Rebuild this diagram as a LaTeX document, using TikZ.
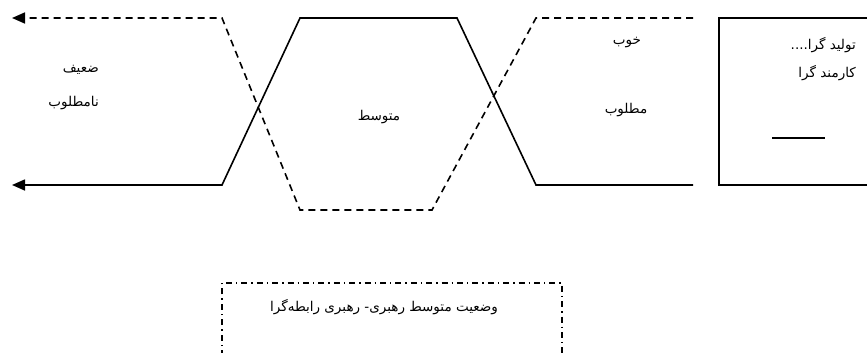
\documentclass[tikz,border=0pt]{standalone}
\usepackage{fontspec}
\newfontfamily\farsi[Script=Arabic]{DejaVu Sans}
\TeXXeTstate=1
\usetikzlibrary{arrows.meta, positioning}

\begin{document}
\begin{tikzpicture}[
  x=1pt, y=-1pt,
  font=\farsi\fontsize{13.5}{16}\selectfont,
  solidline/.style={line width=1.6pt, line join=miter},
  dashline/.style={line width=1.6pt, dash pattern=on 7pt off 5pt},
  dotdash/.style={line width=1.4pt, dash pattern=on 6pt off 4pt on 1.4pt off 4pt},
  arrow/.style={-{Triangle[length=13pt, width=11pt]}},
  lbl/.style={inner sep=1pt}
]
  \useasboundingbox (0,0) rectangle (867,353);

  % corner points of the two curves
  \coordinate (dstart) at (693,18);
  \coordinate (d1) at (536,18);
  \coordinate (d2) at (432,210);
  \coordinate (d3) at (300,210);
  \coordinate (d4) at (222,18);
  \coordinate (dend) at (12,18);
  \coordinate (sstart) at (693,185);
  \coordinate (s1) at (536,185);
  \coordinate (s2) at (457,18);
  \coordinate (s3) at (300,18);
  \coordinate (s4) at (222,185);
  \coordinate (send) at (12,185);

  \draw[dashline, arrow] (dstart) -- (d1) -- (d2) -- (d3) -- (d4) -- (dend);
  \draw[solidline, arrow] (sstart) -- (s1) -- (s2) -- (s3) -- (s4) -- (send);

  % labels
  \node[lbl, anchor=east] (weak) at (100,70) {\beginR ضعیف\endR};
  \node[lbl, anchor=east] (undesired) at (100,103) {\beginR نامطلوب\endR};
  \node[lbl] (medium) at (379,117) {\beginR متوسط\endR};
  \node[lbl] (good) at (627,43) {\beginR خوب\endR};
  \node[lbl] (desired) at (626,110) {\beginR مطلوب\endR};

  % right box
  \coordinate (rtop) at (870,18);
  \coordinate (rtl) at (719,18);
  \coordinate (rbl) at (719,185);
  \coordinate (rbot) at (870,185);
  \draw[solidline] (rtop) -- (rtl) -- (rbl) -- (rbot);
  \node[lbl, anchor=east] (task) at (857,45) {\beginR تولید گرا....\endR};
  \node[lbl, anchor=east] (staff) at (857,73) {\beginR کارمند گرا\endR};
  \coordinate (blank1) at (772,138);
  \coordinate (blank2) at (825,138);
  \draw[line width=1.4pt] (blank1) -- (blank2);

  % bottom box
  \coordinate (bbl) at (222,356);
  \coordinate (btl) at (222,283);
  \coordinate (btr) at (562,283);
  \coordinate (bbr) at (562,356);
  \draw[dotdash] (bbl) -- (btl) -- (btr) -- (bbr);
  \node[lbl] (state) at (384,307) {\beginR وضعیت متوسط رهبری- رهبری رابطه‌گرا\endR};
\end{tikzpicture}
\end{document}
